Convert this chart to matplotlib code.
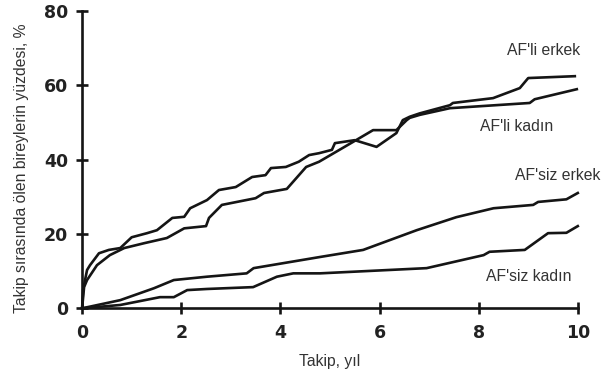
import matplotlib
matplotlib.use("Agg")
import matplotlib.pyplot as plt

# values (years, %)
afli_erkek_x = [0, 0.02, 0.1, 0.16, 0.34, 0.54, 0.77, 1.0, 1.31, 1.51, 1.82, 2.06, 2.18,
                2.52, 2.76, 3.1, 3.43, 3.7, 3.81, 4.11, 4.37, 4.58, 4.78, 5.04, 5.1, 5.5,
                5.94, 6.34, 6.47, 6.61, 6.81, 7.42, 7.48, 8.29, 8.63, 8.83, 9.0, 9.94]
afli_erkek_y = [0, 5, 10.3, 11.6, 14.8, 15.7, 16.2, 19.1, 20.2, 21.0, 24.3, 24.6, 26.9,
                29.1, 31.8, 32.6, 35.3, 35.8, 37.7, 38.0, 39.4, 41.2, 41.7, 42.6, 44.4, 45.2,
                43.4, 47.1, 50.6, 51.5, 52.4, 54.6, 55.2, 56.5, 58.2, 59.2, 61.9, 62.4]

afli_kadin_x = [0, 0.04, 0.1, 0.3, 0.56, 0.85, 1.25, 1.71, 2.06, 2.5, 2.56, 2.82, 3.5,
                3.67, 4.13, 4.52, 4.78, 5.5, 5.87, 6.34, 6.55, 6.61, 6.81, 7.42, 9.03,
                9.13, 9.98]
afli_kadin_y = [0, 5.7, 7.6, 11.6, 14.3, 16.2, 17.5, 18.9, 21.5, 22.1, 24.3, 27.8, 29.6,
                31.0, 32.1, 38.0, 39.4, 45.0, 47.9, 47.9, 50.6, 51.2, 52.0, 53.8, 55.2,
                56.2, 58.9]

afsiz_erkek_x = [0, 0.77, 1.45, 1.85, 2.52, 3.32, 3.46, 4.8, 5.67, 6.75, 7.55, 8.3, 9.1,
                 9.2, 9.77, 10]
afsiz_erkek_y = [0, 2.2, 5.4, 7.6, 8.5, 9.4, 10.8, 13.8, 15.7, 21.0, 24.5, 26.9, 27.8,
                 28.6, 29.3, 31.0]

afsiz_kadin_x = [0, 0.77, 1.57, 1.85, 2.12, 2.52, 3.45, 3.93, 4.26, 4.8, 6.95, 8.1, 8.22,
                 8.93, 9.4, 9.77, 10]
afsiz_kadin_y = [0, 0.9, 3.0, 3.0, 4.9, 5.2, 5.7, 8.5, 9.4, 9.4, 10.8, 14.3, 15.2,
                 15.7, 20.2, 20.3, 22.1]

labels = ["AF'li erkek", "AF'li kadın", "AF'siz erkek", "AF'siz kadın"]
label_pos = [(8.57, 69.4), (8.02, 49.0), (8.73, 35.8), (8.15, 8.5)]

xticks = [0, 2, 4, 6, 8, 10]
yticks = [0, 20, 40, 60, 80]

plt.rcParams['font.family'] = ['Liberation Sans', 'DejaVu Sans']

fig = plt.figure(figsize=(6.15, 3.76), dpi=100)
ax = fig.add_axes([0.1335, 0.18, 0.806, 0.7915])

series = [(afli_erkek_x, afli_erkek_y), (afli_kadin_x, afli_kadin_y),
          (afsiz_erkek_x, afsiz_erkek_y), (afsiz_kadin_x, afsiz_kadin_y)]
for xs, ys in series:
    ax.plot(xs, ys, color='#151515', lw=1.9, clip_on=False, solid_joinstyle='round')

for txt, (tx, ty) in zip(labels, label_pos):
    ax.text(tx, ty, txt, fontsize=11.3, color='#333333', ha='left', va='center')

ax.set_xlim(0, 10)
ax.set_ylim(0, 80)
ax.set_xticks(xticks)
ax.set_yticks(yticks)
for s in ['top', 'right']:
    ax.spines[s].set_visible(False)
for s in ['left', 'bottom']:
    ax.spines[s].set_linewidth(1.9)
    ax.spines[s].set_color('#151515')
ax.tick_params(direction='inout', length=8, width=1.9, color='#151515')
ax.tick_params(axis='x', pad=7)
ax.tick_params(axis='y', pad=6)
for lab in ax.get_xticklabels() + ax.get_yticklabels():
    lab.set_fontfamily('DejaVu Sans')
    lab.set_fontweight('bold')
    lab.set_fontsize(12.5)
    lab.set_color('#222222')

ax.set_xlabel('Takip, yıl', fontsize=11.3, color='#333333', labelpad=9)
ax.set_ylabel('Takip sırasında ölen bireylerin yüzdesi, %', fontsize=11.3,
              color='#333333', labelpad=10)
ax.yaxis.set_label_coords(-0.108, 0.47)

fig.savefig('out.png', dpi=100)
